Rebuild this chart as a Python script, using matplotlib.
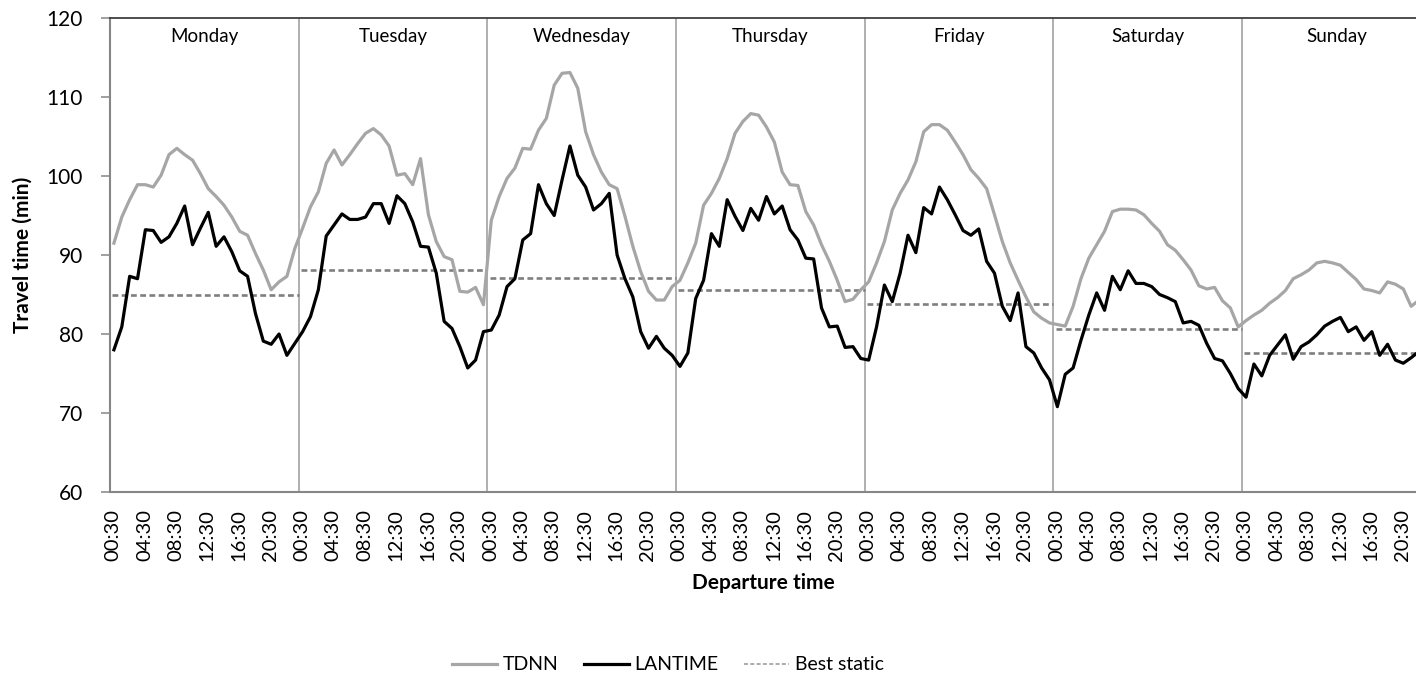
import numpy as np
import matplotlib.pyplot as plt
import matplotlib.transforms as mtransforms
from matplotlib.lines import Line2D

plt.rcParams['font.family'] = ['Lato', 'DejaVu Sans']

days = ['Monday', 'Tuesday', 'Wednesday', 'Thursday', 'Friday', 'Saturday', 'Sunday']
hour_labels = ['00:30', '04:30', '08:30', '12:30', '16:30', '20:30']

# hourly travel times (min), one list per day
tdnn_mon = [91.5, 94.8, 97.0, 98.9, 98.9, 98.6, 100.1, 102.7, 103.5, 102.7, 102.0, 100.3,
            98.4, 97.4, 96.3, 94.8, 93.0, 92.5, 90.2, 88.1, 85.6, 86.6, 87.3, 90.8]
tdnn_tue = [93.4, 96.1, 98.0, 101.6, 103.3, 101.4, 102.7, 104.1, 105.4, 106.0, 105.2, 103.8,
            100.1, 100.3, 98.9, 102.2, 95.1, 91.7, 89.8, 89.4, 85.4, 85.3, 85.9, 83.7]
tdnn_wed = [94.4, 97.4, 99.7, 101.0, 103.5, 103.4, 105.8, 107.3, 111.5, 113.0, 113.1, 111.1,
            105.6, 102.7, 100.5, 98.9, 98.4, 94.9, 91.1, 87.9, 85.4, 84.3, 84.3, 86.0]
tdnn_thu = [86.8, 89.0, 91.5, 96.3, 97.8, 99.7, 102.2, 105.4, 106.9, 107.9, 107.7, 106.2,
            104.3, 100.5, 98.9, 98.8, 95.5, 93.8, 91.3, 89.2, 86.8, 84.1, 84.4, 85.6]
tdnn_fri = [86.6, 89.0, 91.7, 95.7, 97.8, 99.5, 101.8, 105.6, 106.5, 106.5, 105.8, 104.3,
            102.7, 100.8, 99.7, 98.4, 95.1, 91.7, 89.0, 86.8, 84.7, 82.8, 82.0, 81.4]
tdnn_sat = [81.2, 81.0, 83.5, 87.0, 89.6, 91.3, 93.0, 95.5, 95.8, 95.8, 95.7, 95.1,
            94.0, 93.0, 91.3, 90.6, 89.4, 88.1, 86.1, 85.7, 85.9, 84.2, 83.3, 80.9]
tdnn_sun = [81.7, 82.4, 83.0, 83.9, 84.6, 85.5, 87.0, 87.5, 88.1, 89.0, 89.2, 89.0,
            88.7, 87.8, 86.9, 85.7, 85.5, 85.2, 86.6, 86.3, 85.7, 83.5, 84.3]

lantime_mon = [78.0, 80.9, 87.3, 87.0, 93.2, 93.1, 91.6, 92.3, 94.0, 96.2, 91.3, 93.4,
               95.4, 91.1, 92.3, 90.4, 88.0, 87.3, 82.6, 79.1, 78.7, 80.0, 77.3, 78.8]
lantime_tue = [80.3, 82.2, 85.6, 92.4, 93.8, 95.2, 94.5, 94.5, 94.8, 96.5, 96.5, 94.0,
               97.5, 96.5, 94.2, 91.1, 91.0, 87.7, 81.6, 80.7, 78.4, 75.7, 76.7, 80.3]
lantime_wed = [80.5, 82.4, 86.0, 87.0, 91.9, 92.7, 98.9, 96.5, 95.0, 99.5, 103.8, 100.1,
               98.6, 95.7, 96.5, 97.8, 90.0, 87.0, 84.7, 80.3, 78.2, 79.7, 78.2, 77.3]
lantime_thu = [75.9, 77.6, 84.5, 86.8, 92.7, 91.1, 97.0, 94.9, 93.1, 95.9, 94.4, 97.4,
               95.2, 96.2, 93.2, 91.9, 89.6, 89.5, 83.3, 80.9, 81.0, 78.3, 78.4, 76.9]
lantime_fri = [76.7, 80.9, 86.2, 84.1, 87.7, 92.5, 90.3, 96.0, 95.2, 98.6, 97.0, 95.1,
               93.1, 92.5, 93.3, 89.2, 87.7, 83.5, 81.7, 85.2, 78.4, 77.6, 75.7, 74.2]
lantime_sat = [70.8, 74.9, 75.7, 79.2, 82.4, 85.2, 83.0, 87.3, 85.6, 88.0, 86.4, 86.4,
               86.0, 85.0, 84.6, 84.1, 81.4, 81.6, 81.1, 78.8, 76.9, 76.6, 75.0, 73.1]
lantime_sun = [72.0, 76.2, 74.7, 77.3, 78.6, 79.9, 76.8, 78.4, 79.0, 79.9, 81.0, 81.6,
               82.1, 80.3, 80.9, 79.2, 80.3, 77.3, 78.7, 76.7, 76.3, 77.0, 77.8]

best_static = [85.0, 88.1, 87.1, 85.6, 83.8, 80.6, 77.6]

tdnn = np.concatenate([tdnn_mon, tdnn_tue, tdnn_wed, tdnn_thu, tdnn_fri, tdnn_sat, tdnn_sun])
lantime = np.concatenate([lantime_mon, lantime_tue, lantime_wed, lantime_thu,
                          lantime_fri, lantime_sat, lantime_sun])
x_tdnn = np.arange(len(tdnn)) + 0.5
x_lan = np.arange(len(lantime)) + 0.5

fig = plt.figure(figsize=(14.16, 6.79), dpi=100)
ax = fig.add_axes([110 / 1416, 1 - 492 / 679, 1 - 110 / 1416, (492 - 18) / 679])

axis_grey = '#868686'

# day separators
for d in range(1, len(days)):
    ax.axvline(24 * d, color='#9a9a9a', lw=1.1, zorder=1)

ax.plot(x_tdnn, tdnn, color='#a6a6a6', lw=2.3, zorder=3)
ax.plot(x_lan, lantime, color='black', lw=2.3, zorder=4)
for d, v in enumerate(best_static):
    ax.plot([24 * d + 0.3, 24 * d + 24], [v, v], color='#7f7f7f', lw=1.9,
            dashes=(2.2, 1.3), zorder=2)

for d, name in enumerate(days):
    ax.text(24 * d + 12, 117.6, name, ha='center', va='center', fontsize=13.5)

ax.set_xlim(0, (1416 - 110) / 7.862)
ax.set_ylim(60, 120)
ax.set_yticks(np.arange(60, 121, 10))

ticks = [24 * d + 4 * j for d in range(len(days)) for j in range(len(hour_labels))]
ax.set_xticks(ticks)
ax.set_xticklabels(hour_labels * len(days), rotation=90, fontsize=14.5)
ax.tick_params(axis='x', length=0, pad=12)
shift = mtransforms.ScaledTranslation(3 / 100, 0, fig.dpi_scale_trans)
for lab in ax.get_xticklabels():
    lab.set_transform(lab.get_transform() + shift)
ax.set_xticks([24 * d for d in range(len(days))], minor=True)
ax.tick_params(axis='x', which='minor', length=6, width=1.1, color=axis_grey, direction='out')
ax.tick_params(axis='y', length=6.5, width=1.1, color=axis_grey, labelsize=15, pad=13)

for side in ['left', 'bottom']:
    ax.spines[side].set_color(axis_grey)
    ax.spines[side].set_linewidth(1.5)
ax.spines['top'].set_color('#404040')
ax.spines['top'].set_linewidth(1.3)
ax.spines['right'].set_visible(False)

ax.set_ylabel('Travel time (min)', fontsize=15, fontweight='bold', labelpad=10)
fig.text(763 / 1416, 1 - 583 / 679, 'Departure time', ha='center', va='center',
         fontsize=15, fontweight='bold')

handles = [Line2D([], [], color='#a6a6a6', lw=2.3),
           Line2D([], [], color='black', lw=2.3),
           Line2D([], [], color='#a6a6a6', lw=1.3, dashes=(2.2, 1.3))]
fig.legend(handles, ['TDNN', 'LANTIME', 'Best static'], loc='center',
           bbox_to_anchor=(668 / 1416, 1 - 665 / 679), ncol=3, frameon=False,
           fontsize=14, handlelength=2.3, handletextpad=0.3, columnspacing=1.3)

fig.savefig('out.png', dpi=100)
